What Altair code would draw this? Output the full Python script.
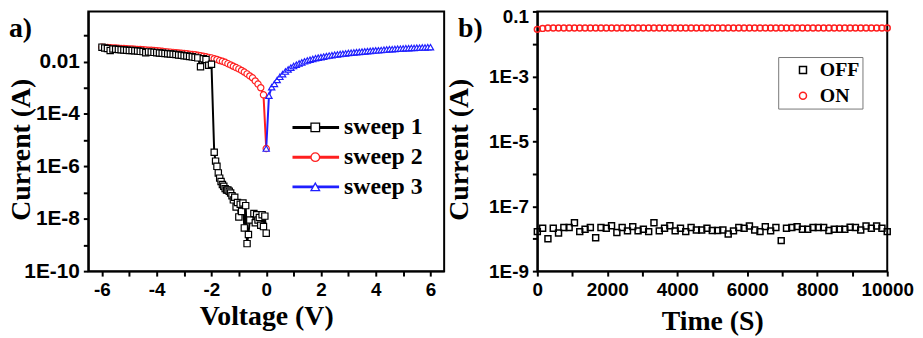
import altair as alt
import pandas as pd

# ---------------- panel a: I-V sweeps ----------------
sweep_names = ["sweep 1", "sweep 2", "sweep 3"]
sweep_colors = ["#000000", "#ff1f1f", "#1f1fff"]
sweep_shapes = ["square", "circle", "triangle-up"]

sweep1_voltage = [-6.0, -5.9, -5.8, -5.7, -5.6, -5.5, -5.4, -5.3, -5.2, -5.1,
                  -5.0, -4.9, -4.8, -4.7, -4.6, -4.5, -4.4, -4.3, -4.2, -4.1,
                  -4.0, -3.9, -3.8, -3.7, -3.6, -3.5, -3.4, -3.3, -3.2, -3.1,
                  -3.0, -2.9, -2.8, -2.7, -2.6, -2.5, -2.4, -2.3, -2.2, -2.1,
                  -2.0,
                  -1.90, -1.85, -1.80, -1.75, -1.70, -1.65, -1.60, -1.55, -1.50, -1.45,
                  -1.40, -1.35, -1.30, -1.25, -1.20, -1.15, -1.10, -1.05, -1.00, -0.95,
                  -0.90, -0.85, -0.80, -0.75, -0.70, -0.65, -0.60,
                  -0.45, -0.40, -0.35, -0.30, -0.25, -0.20, -0.15, -0.10, -0.05, 0.00]
sweep1_log10_current = [-1.45, -1.48, -1.50, -1.58, -1.52, -1.53, -1.54, -1.55, -1.56, -1.57,
                        -1.58, -1.58, -1.59, -1.60, -1.61, -1.62, -1.66, -1.63, -1.64, -1.65,
                        -1.66, -1.67, -1.68, -1.69, -1.70, -1.71, -1.72, -1.73, -1.75, -1.76,
                        -1.78, -1.79, -1.81, -1.82, -1.84, -1.86, -2.20, -1.89, -1.92, -2.14,
                        -2.10,
                        -5.46, -5.80, -6.00, -6.25, -6.45, -6.58, -6.69, -6.76, -6.85, -6.90,
                        -6.90, -6.95, -7.02, -7.12, -7.28, -7.18, -7.55, -7.38, -7.93, -7.45,
                        -7.72, -7.40, -8.35, -7.50, -8.95, -8.60, -8.05,
                        -7.80, -8.15, -7.85, -8.05, -7.95, -8.25, -7.85, -8.30, -7.90, -8.55]

sweep2_voltage = [-6.0, -5.9, -5.8, -5.7, -5.6, -5.5, -5.4, -5.3, -5.2, -5.1,
                  -5.0, -4.9, -4.8, -4.7, -4.6, -4.5, -4.4, -4.3, -4.2, -4.1,
                  -4.0, -3.9, -3.8, -3.7, -3.6, -3.5, -3.4, -3.3, -3.2, -3.1,
                  -3.0, -2.9, -2.8, -2.7, -2.6, -2.5, -2.4, -2.3, -2.2, -2.1,
                  -2.0, -1.9, -1.8, -1.7, -1.6, -1.5, -1.4, -1.3, -1.2, -1.1,
                  -1.0, -0.9, -0.8, -0.7, -0.6, -0.5, -0.4, -0.3, -0.2, -0.1,
                  0.0]
sweep2_log10_current = [-1.45, -1.46, -1.46, -1.47, -1.48, -1.48, -1.49, -1.50, -1.50, -1.51,
                        -1.52, -1.52, -1.53, -1.54, -1.54, -1.55, -1.56, -1.57, -1.57, -1.58,
                        -1.59, -1.60, -1.61, -1.62, -1.63, -1.64, -1.65, -1.66, -1.67, -1.68,
                        -1.69, -1.70, -1.72, -1.73, -1.74, -1.76, -1.78, -1.80, -1.82, -1.84,
                        -1.86, -1.89, -1.92, -1.96, -1.99, -2.03, -2.08, -2.13, -2.18, -2.23,
                        -2.28, -2.34, -2.40, -2.47, -2.55, -2.62, -2.74, -2.86, -3.00, -3.27,
                        -5.32]

sweep3_voltage = [0.0,
                  0.1, 0.2, 0.3, 0.4, 0.5, 0.6, 0.7, 0.8, 0.9, 1.0,
                  1.1, 1.2, 1.3, 1.4, 1.5, 1.6, 1.7, 1.8, 1.9, 2.0,
                  2.1, 2.2, 2.3, 2.4, 2.5, 2.6, 2.7, 2.8, 2.9, 3.0,
                  3.1, 3.2, 3.3, 3.4, 3.5, 3.6, 3.7, 3.8, 3.9, 4.0,
                  4.1, 4.2, 4.3, 4.4, 4.5, 4.6, 4.7, 4.8, 4.9, 5.0,
                  5.1, 5.2, 5.3, 5.4, 5.5, 5.6, 5.7, 5.8, 5.9, 6.0]
sweep3_log10_current = [-5.32,
                        -3.30, -2.98, -2.85, -2.70, -2.58, -2.48, -2.38, -2.30, -2.23, -2.17,
                        -2.12, -2.07, -2.03, -1.99, -1.96, -1.93, -1.90, -1.87, -1.85, -1.83,
                        -1.81, -1.79, -1.77, -1.76, -1.74, -1.73, -1.71, -1.70, -1.69, -1.67,
                        -1.66, -1.65, -1.64, -1.63, -1.62, -1.61, -1.60, -1.59, -1.58, -1.57,
                        -1.57, -1.56, -1.55, -1.54, -1.53, -1.53, -1.52, -1.51, -1.51, -1.50,
                        -1.49, -1.49, -1.48, -1.48, -1.47, -1.47, -1.46, -1.46, -1.45, -1.45]

a_x_ticks = [-6, -5, -4, -3, -2, -1, 0, 1, 2, 3, 4, 5, 6]
a_x_labels = ["-6", "", "-4", "", "-2", "", "0", "", "2", "", "4", "", "6"]
a_y_ticks = [1e-10, 1e-9, 1e-8, 1e-7, 1e-6, 1e-5, 1e-4, 1e-3, 1e-2, 1e-1]
a_y_labels = ["1E-10", "", "1E-8", "", "1E-6", "", "1E-4", "", "0.01", ""]

# ---------------- panel b: retention ----------------
state_names = ["OFF", "ON"]
state_colors = ["#000000", "#ff1f1f"]
state_shapes = ["square", "circle"]

time_s = [0, 152, 303, 455, 606, 758, 909, 1061, 1212, 1364,
          1515, 1667, 1818, 1970, 2121, 2273, 2424, 2576, 2727, 2879,
          3030, 3182, 3333, 3485, 3636, 3788, 3939, 4091, 4242, 4394,
          4545, 4697, 4848, 5000, 5152, 5303, 5455, 5606, 5758, 5909,
          6061, 6212, 6364, 6515, 6667, 6818, 6970, 7121, 7273, 7424,
          7576, 7727, 7879, 8030, 8182, 8333, 8485, 8636, 8788, 8939,
          9091, 9242, 9394, 9545, 9697, 9848, 10000]
off_current = [1.65e-8, 2.1e-8, 1.0e-8, 2.1e-8, 1.5e-8, 2.2e-8, 2.2e-8, 3.1e-8, 1.65e-8, 1.95e-8,
               2.2e-8, 1.07e-8, 2.2e-8, 2.1e-8, 2.5e-8, 1.55e-8, 2.2e-8, 1.74e-8, 2.35e-8, 1.74e-8,
               1.95e-8, 1.65e-8, 3.1e-8, 1.74e-8, 2.1e-8, 2.5e-8, 1.74e-8, 2.1e-8, 1.65e-8, 2.2e-8,
               1.86e-8, 1.86e-8, 2.1e-8, 1.78e-8, 1.78e-8, 1.86e-8, 1.4e-8, 1.74e-8, 2.2e-8, 2.1e-8,
               2.45e-8, 1.86e-8, 1.65e-8, 2.35e-8, 1.74e-8, 2.2e-8, 8.7e-9, 2.1e-8, 2.2e-8, 2.35e-8,
               1.95e-8, 1.95e-8, 2.2e-8, 2.2e-8, 2.2e-8, 1.78e-8, 1.95e-8, 1.95e-8, 1.95e-8, 2.24e-8,
               2.2e-8, 1.86e-8, 2.45e-8, 2.1e-8, 2.45e-8, 2.1e-8, 1.65e-8]
on_current = [0.028, 0.030, 0.031, 0.031, 0.031, 0.031, 0.031, 0.031, 0.031, 0.031,
              0.031, 0.031, 0.031, 0.031, 0.031, 0.031, 0.031, 0.031, 0.031, 0.031,
              0.031, 0.031, 0.031, 0.031, 0.031, 0.031, 0.031, 0.031, 0.031, 0.031,
              0.031, 0.031, 0.031, 0.031, 0.031, 0.031, 0.031, 0.031, 0.031, 0.031,
              0.031, 0.031, 0.031, 0.031, 0.031, 0.031, 0.031, 0.031, 0.031, 0.031,
              0.031, 0.031, 0.031, 0.031, 0.031, 0.031, 0.031, 0.031, 0.031, 0.031,
              0.031, 0.031, 0.031, 0.031, 0.031, 0.031, 0.031]

b_x_ticks = [0, 1000, 2000, 3000, 4000, 5000, 6000, 7000, 8000, 9000, 10000]
b_x_labels = ["0", "", "2000", "", "4000", "", "6000", "", "8000", "", "10000"]
b_y_ticks = [1e-9, 1e-8, 1e-7, 1e-6, 1e-5, 1e-4, 1e-3, 1e-2, 1e-1]
b_y_labels = ["1E-9", "", "1E-7", "", "1E-5", "", "1E-3", "", "0.1"]

panel_labels = ["a)", "b)"]


def arr(labels):
    return "[" + ",".join("'" + s + "'" for s in labels) + "]"


# ---------------- tables ----------------
rows = []
for name, vs, ls in [("sweep 2", sweep2_voltage, sweep2_log10_current),
                     ("sweep 3", sweep3_voltage, sweep3_log10_current),
                     ("sweep 1", sweep1_voltage, sweep1_log10_current)]:
    for v, l in zip(vs, ls):
        rows.append({"V": v, "I": 10 ** l, "sweep": name})
iv = pd.DataFrame(rows)

ret = pd.DataFrame(
    [{"t": t, "I": c, "state": "OFF"} for t, c in zip(time_s, off_current)]
    + [{"t": t, "I": c, "state": "ON"} for t, c in zip(time_s, on_current)]
)

SERIF = "Liberation Serif"

# ---------------- panel a chart ----------------
x_a = alt.X("V:Q", scale=alt.Scale(domain=[-6.5, 6.5], nice=False, zero=False),
            axis=alt.Axis(title="Voltage (V)", values=a_x_ticks,
                          labelExpr=arr(a_x_labels) + "[round(datum.value)+6]",
                          titlePadding=3, minExtent=29, maxExtent=29))
y_a = alt.Y("I:Q", scale=alt.Scale(type="log", domain=[1e-10, 0.82], nice=False),
            axis=alt.Axis(title="Current (A)", values=a_y_ticks, labelFontSize=21,
                          labelExpr=arr(a_y_labels) + "[round(log(datum.value)/LN10)+10]",
                          titlePadding=-8, minExtent=61, maxExtent=61, titleY=139))
color_a = alt.Color("sweep:N", scale=alt.Scale(domain=sweep_names, range=sweep_colors), legend=None)
shape_a = alt.Shape("sweep:N", scale=alt.Scale(domain=sweep_names, range=sweep_shapes), legend=None)

lines_a = alt.Chart(iv).mark_line(strokeWidth=2).encode(x=x_a, y=y_a, color=color_a, detail="sweep:N")
points_a = alt.Chart(iv).mark_point(filled=False, fill="white", size=40, strokeWidth=1.2, opacity=1).encode(
    x=x_a, y=y_a, color=color_a, shape=shape_a)
main_a = alt.layer(lines_a, points_a)

leg_df = pd.DataFrame({"sweep": sweep_names})
leg_base = alt.Chart(leg_df).transform_calculate(
    row="indexof(" + arr(sweep_names) + ", datum.sweep)"
)
leg_y = alt.Y("row:Q", scale=alt.Scale(domain=[0, 2], range=[117, 177], nice=False, zero=False), axis=None)
leg_rule = leg_base.mark_rule(strokeWidth=3).encode(
    y=leg_y, x=alt.value(206), x2=alt.value(253), color=color_a)
leg_pts = leg_base.mark_point(filled=False, fill="white", size=75, strokeWidth=1.3, opacity=1).encode(
    y=leg_y, x=alt.value(229), color=color_a, shape=shape_a)
leg_txt = leg_base.mark_text(align="left", baseline="middle", font=SERIF, fontWeight="bold",
                             fontSize=24, color="black").encode(
    y=leg_y, x=alt.value(258), text="sweep:N")
legend_a = alt.layer(leg_rule, leg_pts, leg_txt)

lab_a = alt.Chart(pd.DataFrame({"p": [panel_labels[0]]})).mark_text(
    align="left", baseline="alphabetic", font=SERIF, fontWeight="bold", fontSize=28, color="black"
).encode(text="p:N", x=alt.value(-80), y=alt.value(26))

panel_a = alt.layer(main_a, legend_a, lab_a).resolve_scale(y="independent").properties(width=359, height=262)

# ---------------- panel b chart ----------------
x_b = alt.X("t:Q", scale=alt.Scale(domain=[0, 10000], nice=False, zero=False),
            axis=alt.Axis(title="Time (S)", values=b_x_ticks,
                          labelExpr=arr(b_x_labels) + "[round(datum.value/1000)]",
                          titlePadding=7.4, minExtent=29, maxExtent=29))
y_b = alt.Y("I:Q", scale=alt.Scale(type="log", domain=[1e-9, 0.1], nice=False),
            axis=alt.Axis(title="Current (A)", values=b_y_ticks,
                          labelExpr=arr(b_y_labels) + "[round(log(datum.value)/LN10)+9]",
                          labelOffset={"condition": {"test": "datum.value > 0.05", "value": 5}, "value": 0},
                          titlePadding=0, minExtent=64, maxExtent=64, titleY=139))
leg_b = alt.Legend(title=None, orient="none", legendX=243, legendY=46, strokeColor="#777777",
                   fillColor="white", padding=3, rowPadding=6, symbolOffset=12, labelOffset=7,
                   labelFont=SERIF, labelFontWeight="bold", labelFontSize=20, labelColor="black",
                   symbolSize=50, symbolStrokeWidth=1.5)
pts_b = alt.Chart(ret).mark_point(filled=False, size=36, strokeWidth=1.5, opacity=1).encode(
    x=x_b, y=y_b,
    color=alt.Color("state:N", scale=alt.Scale(domain=state_names, range=state_colors), legend=leg_b),
    shape=alt.Shape("state:N", scale=alt.Scale(domain=state_names, range=state_shapes), legend=leg_b),
)
lab_b = alt.Chart(pd.DataFrame({"p": [panel_labels[1]]})).mark_text(
    align="left", baseline="alphabetic", font=SERIF, fontWeight="bold", fontSize=28, color="black"
).encode(text="p:N", x=alt.value(-80), y=alt.value(26))

panel_b = alt.layer(pts_b, lab_b).properties(width=353, height=262)

chart = alt.hconcat(panel_a, panel_b, spacing=94, bounds="flush").resolve_scale(
    color="independent", shape="independent"
).resolve_legend(
    color="independent", shape="independent"
).properties(
    padding={"left": -1, "top": -3, "right": 0, "bottom": 0},
    background="white",
).configure_view(stroke="black", strokeWidth=2).configure_axis(
    domainColor="black", domainWidth=2, tickColor="black", tickWidth=2, tickSize=5,
    labelFont="Liberation Sans", labelFontSize=19, labelFontWeight="bold", labelColor="black",
    labelPadding=4, labelOverlap=False, labelFlush=False,
    titleFont=SERIF, titleFontSize=28, titleFontWeight="bold", titleColor="black", grid=False,
).configure_axisX(labelPadding=5)

chart.save("out.html", embed_options={"renderer": "svg", "actions": False})
